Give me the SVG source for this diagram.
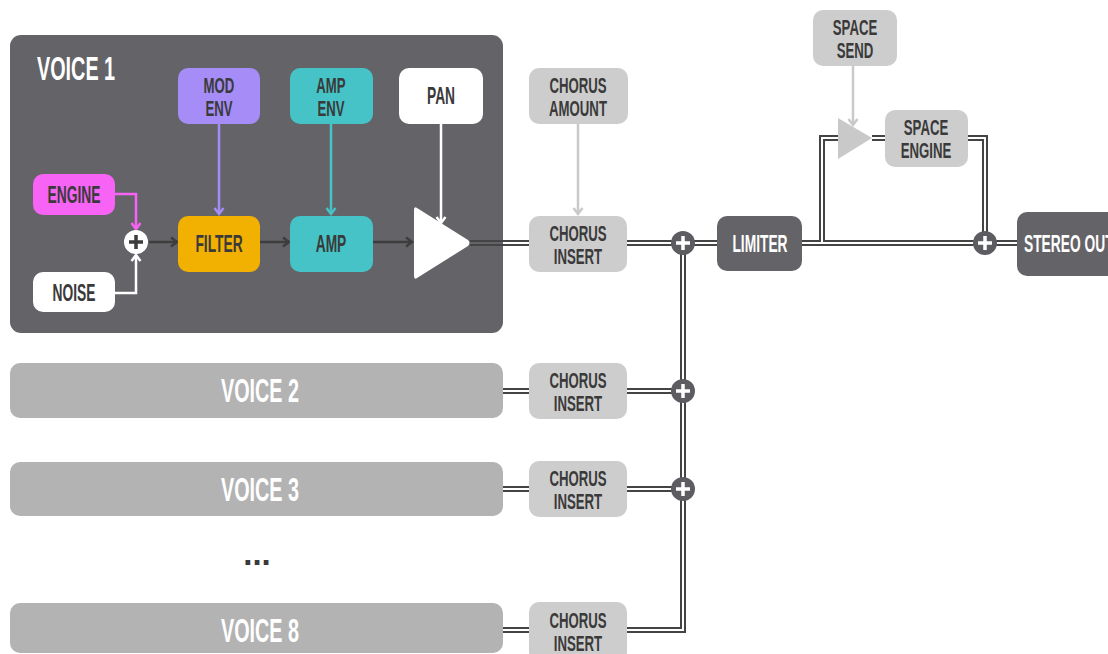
<svg xmlns="http://www.w3.org/2000/svg" width="1108" height="654" viewBox="0 0 1108 654">
  <style>
    text { font-family: "Liberation Sans", Arial, sans-serif; font-weight: bold; }
    .lbl { font-size: 22px; fill: #3a3a3a; text-anchor: middle; }
    .one { font-size: 23px; }
    .lbl-w { font-size: 23px; fill: #ffffff; text-anchor: middle; }
    .big { font-size: 33px; fill: #ffffff; text-anchor: middle; }
    .bus-o { fill: none; stroke: #444444; stroke-width: 6; stroke-linejoin: miter; }
    .bus-i { fill: none; stroke: #ffffff; stroke-width: 2; stroke-linejoin: miter; }
    .sig { fill: none; stroke-width: 2.5; }
    .mix { fill: #5d5c61; }
    .cross { stroke: #ffffff; stroke-width: 3.5; }
  </style>
  <defs>
    <marker id="ah-dark" viewBox="0 0 12 12" refX="9" refY="6" markerWidth="12" markerHeight="12" markerUnits="userSpaceOnUse" orient="auto">
      <path d="M3,1.5 L9,6 L3,10.5" fill="none" stroke="#3d3d3d" stroke-width="2.5"/>
    </marker>
    <marker id="ah-purple" viewBox="0 0 12 12" refX="9" refY="6" markerWidth="12" markerHeight="12" markerUnits="userSpaceOnUse" orient="auto">
      <path d="M3,1.5 L9,6 L3,10.5" fill="none" stroke="#a58cf7" stroke-width="2.5"/>
    </marker>
    <marker id="ah-teal" viewBox="0 0 12 12" refX="9" refY="6" markerWidth="12" markerHeight="12" markerUnits="userSpaceOnUse" orient="auto">
      <path d="M3,1.5 L9,6 L3,10.5" fill="none" stroke="#45c3c6" stroke-width="2.5"/>
    </marker>
    <marker id="ah-pink" viewBox="0 0 12 12" refX="9" refY="6" markerWidth="12" markerHeight="12" markerUnits="userSpaceOnUse" orient="auto">
      <path d="M3,1.5 L9,6 L3,10.5" fill="none" stroke="#f763f4" stroke-width="2.5"/>
    </marker>
    <marker id="ah-white" viewBox="0 0 12 12" refX="9" refY="6" markerWidth="12" markerHeight="12" markerUnits="userSpaceOnUse" orient="auto">
      <path d="M3,1.5 L9,6 L3,10.5" fill="none" stroke="#ffffff" stroke-width="2.5"/>
    </marker>
    <marker id="ah-grey" viewBox="0 0 12 12" refX="9" refY="6" markerWidth="12" markerHeight="12" markerUnits="userSpaceOnUse" orient="auto">
      <path d="M3,1.5 L9,6 L3,10.5" fill="none" stroke="#c9c9c9" stroke-width="2.5"/>
    </marker>
  </defs>

  <rect width="1108" height="654" fill="#ffffff"/>

  <!-- voice 1 panel -->
  <g id="voice1">
    <rect x="10" y="35" width="493" height="298" rx="11" fill="#646368"/>
    <text class="big" style="text-anchor:start" transform="translate(37,80) scale(0.6 1)">VOICE 1</text>
  </g>

  <!-- stereo bus (double lines) -->
  <g id="connectors">
    <g class="bus-o">
      <path d="M470,243 H529"/>
      <path d="M627,243 H717"/>
      <path d="M683,243 V630 H627"/>
      <path d="M503,391 H529 M627,391 H683"/>
      <path d="M503,489 H529 M627,489 H683"/>
      <path d="M503,630 H529"/>
      <path d="M802,243 H1017"/>
      <path d="M838,138 H822 V243"/>
      <path d="M872,138 H885"/>
      <path d="M968,138 H985 V243"/>
    </g>
    <g class="bus-i">
      <path d="M470,243 H503" stroke="#646368"/>
      <path d="M503,243 H529"/>
      <path d="M627,243 H717"/>
      <path d="M683,243 V630 H627"/>
      <path d="M503,391 H529 M627,391 H683"/>
      <path d="M503,489 H529 M627,489 H683"/>
      <path d="M503,630 H529"/>
      <path d="M802,243 H1017"/>
      <path d="M838,138 H822 V243"/>
      <path d="M872,138 H885"/>
      <path d="M968,138 H985 V243"/>
    </g>

    <!-- modulation / signal arrows -->
    <path class="sig" stroke="#f763f4" d="M115,194 H136 V229" marker-end="url(#ah-pink)"/>
    <path class="sig" stroke="#ffffff" d="M115,293 H136 V255" marker-end="url(#ah-white)"/>
    <path class="sig" stroke="#3d3d3d" d="M149,242 H177" marker-end="url(#ah-dark)"/>
    <path class="sig" stroke="#a58cf7" d="M219,124 V214" marker-end="url(#ah-purple)"/>
    <path class="sig" stroke="#3d3d3d" d="M260,242 H289" marker-end="url(#ah-dark)"/>
    <path class="sig" stroke="#45c3c6" d="M331,124 V214" marker-end="url(#ah-teal)"/>
    <path class="sig" stroke="#3d3d3d" d="M373,242 H412" marker-end="url(#ah-dark)"/>
    <path class="sig" stroke="#ffffff" d="M441,124 V223" marker-end="url(#ah-white)"/>
    <path class="sig" stroke="#c9c9c9" d="M578,124 V214" marker-end="url(#ah-grey)"/>
    <path class="sig" stroke="#c9c9c9" d="M853,66 V125" marker-end="url(#ah-grey)"/>
  </g>

  <!-- voice 1 internals -->
  <g id="mod-env">
    <rect x="178" y="68" width="82" height="56" rx="10" fill="#a58cf7"/>
    <text class="lbl" transform="translate(219,93) scale(0.6 1)">MOD</text>
    <text class="lbl" transform="translate(219,116) scale(0.6 1)">ENV</text>
  </g>
  <g id="amp-env">
    <rect x="290" y="68" width="83" height="56" rx="10" fill="#45c3c6"/>
    <text class="lbl" transform="translate(331,93) scale(0.6 1)">AMP</text>
    <text class="lbl" transform="translate(331,116) scale(0.6 1)">ENV</text>
  </g>
  <g id="pan">
    <rect x="399" y="68" width="84" height="56" rx="10" fill="#ffffff"/>
    <text class="lbl one" transform="translate(441,104) scale(0.6 1)">PAN</text>
  </g>
  <g id="engine">
    <rect x="33" y="174" width="82" height="41" rx="10" fill="#f763f4"/>
    <text class="lbl one" transform="translate(74,203) scale(0.6 1)">ENGINE</text>
  </g>
  <g id="noise">
    <rect x="33" y="272" width="82" height="40" rx="10" fill="#ffffff"/>
    <text class="lbl one" transform="translate(74,301) scale(0.6 1)">NOISE</text>
  </g>
  <g id="osc-mix">
    <circle cx="136" cy="242" r="12" fill="#ffffff"/>
    <path d="M129,242 H143 M136,235 V249" stroke="#3d3d3d" stroke-width="3.5"/>
  </g>
  <g id="filter">
    <rect x="178" y="216" width="82" height="56" rx="10" fill="#f2b000"/>
    <text class="lbl one" transform="translate(219,252) scale(0.6 1)">FILTER</text>
  </g>
  <g id="amp">
    <rect x="290" y="216" width="83" height="56" rx="10" fill="#45c3c6"/>
    <text class="lbl one" transform="translate(331,252) scale(0.6 1)">AMP</text>
  </g>
  <g id="panner">
    <path d="M414,210 Q414,206 417,208 L468,240 Q471,243 468,246 L417,278 Q414,280 414,276 Z" fill="#ffffff"/>
  </g>

  <!-- chorus -->
  <g id="chorus-amount">
    <rect x="529" y="68" width="99" height="56" rx="10" fill="#cdcdcd"/>
    <text class="lbl" transform="translate(578,93) scale(0.6 1)">CHORUS</text>
    <text class="lbl" transform="translate(578,116) scale(0.6 1)">AMOUNT</text>
  </g>
  <g id="chorus-insert-1">
    <rect x="529" y="216" width="98" height="56" rx="10" fill="#cdcdcd"/>
    <text class="lbl" transform="translate(578,241) scale(0.6 1)">CHORUS</text>
    <text class="lbl" transform="translate(578,264) scale(0.6 1)">INSERT</text>
  </g>
  <g id="chorus-insert-2">
    <rect x="529" y="363" width="98" height="56" rx="10" fill="#cdcdcd"/>
    <text class="lbl" transform="translate(578,388) scale(0.6 1)">CHORUS</text>
    <text class="lbl" transform="translate(578,411) scale(0.6 1)">INSERT</text>
  </g>
  <g id="chorus-insert-3">
    <rect x="529" y="461" width="98" height="56" rx="10" fill="#cdcdcd"/>
    <text class="lbl" transform="translate(578,486) scale(0.6 1)">CHORUS</text>
    <text class="lbl" transform="translate(578,509) scale(0.6 1)">INSERT</text>
  </g>
  <g id="chorus-insert-8">
    <rect x="529" y="602" width="98" height="60" rx="10" fill="#cdcdcd"/>
    <text class="lbl" transform="translate(578,628) scale(0.6 1)">CHORUS</text>
    <text class="lbl" transform="translate(578,651) scale(0.6 1)">INSERT</text>
  </g>

  <!-- other voices -->
  <g id="voice2">
    <rect x="10" y="363" width="493" height="55" rx="10" fill="#b3b3b3"/>
    <text class="big" transform="translate(260,402) scale(0.6 1)">VOICE 2</text>
  </g>
  <g id="voice3">
    <rect x="10" y="462" width="493" height="54" rx="10" fill="#b3b3b3"/>
    <text class="big" transform="translate(260,501) scale(0.6 1)">VOICE 3</text>
  </g>
  <g id="ellipsis">
    <text class="big" style="fill:#3a3a3a" transform="translate(257,565)">...</text>
  </g>
  <g id="voice8">
    <rect x="10" y="603" width="493" height="50" rx="10" fill="#b3b3b3"/>
    <text class="big" transform="translate(260,642) scale(0.6 1)">VOICE 8</text>
  </g>

  <!-- summing points -->
  <g id="sum-1" class="mix">
    <circle cx="683" cy="243" r="12"/>
    <path class="cross" d="M676,243 H690 M683,236 V250"/>
  </g>
  <g id="sum-2" class="mix">
    <circle cx="683" cy="391" r="12"/>
    <path class="cross" d="M676,391 H690 M683,384 V398"/>
  </g>
  <g id="sum-3" class="mix">
    <circle cx="683" cy="489" r="12"/>
    <path class="cross" d="M676,489 H690 M683,482 V496"/>
  </g>
  <g id="sum-out" class="mix">
    <circle cx="985" cy="243" r="12"/>
    <path class="cross" d="M978,243 H992 M985,236 V250"/>
  </g>

  <!-- master section -->
  <g id="limiter">
    <rect x="717" y="216" width="85" height="55" rx="10" fill="#646368"/>
    <text class="lbl-w" transform="translate(760,252) scale(0.6 1)">LIMITER</text>
  </g>
  <g id="space-send">
    <rect x="813" y="10" width="84" height="56" rx="10" fill="#cdcdcd"/>
    <text class="lbl" transform="translate(855,35) scale(0.6 1)">SPACE</text>
    <text class="lbl" transform="translate(855,58) scale(0.6 1)">SEND</text>
  </g>
  <g id="space-gain">
    <path d="M838,118 L872,138 L838,159 Z" fill="#c9c9c9"/>
  </g>
  <g id="space-engine">
    <rect x="885" y="110" width="83" height="57" rx="10" fill="#cdcdcd"/>
    <text class="lbl" transform="translate(926,135) scale(0.6 1)">SPACE</text>
    <text class="lbl" transform="translate(926,158) scale(0.6 1)">ENGINE</text>
  </g>
  <g id="stereo-out">
    <rect x="1017" y="212" width="110" height="64" rx="10" fill="#646368"/>
    <text class="lbl-w" style="text-anchor:start" transform="translate(1024,252) scale(0.6 1)">STEREO OUT</text>
  </g>
</svg>
